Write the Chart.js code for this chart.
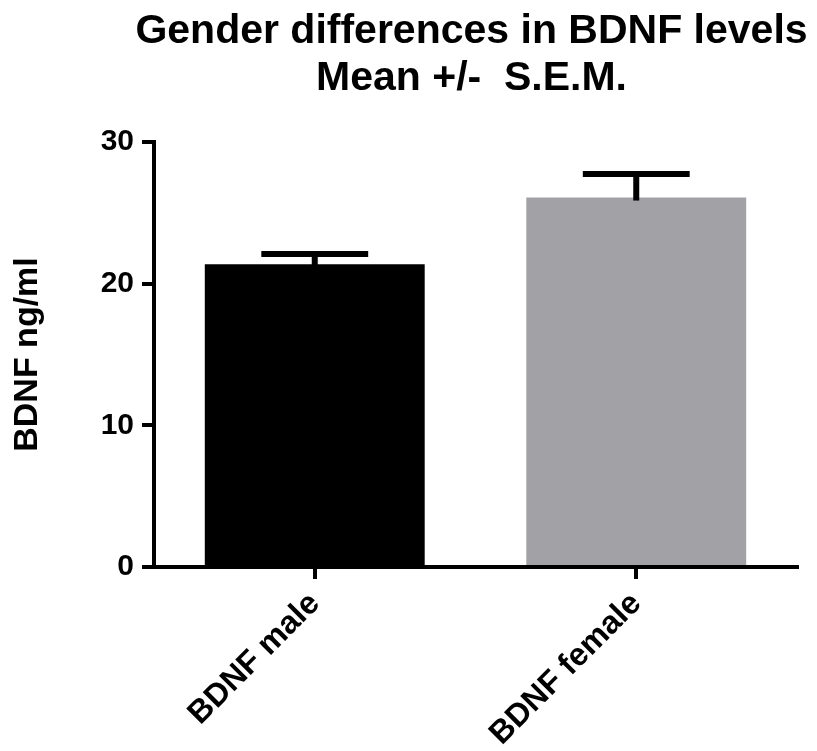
<!DOCTYPE html>
<html>
<head>
<meta charset="utf-8">
<script src="https://cdn.jsdelivr.net/npm/chart.js@4/dist/chart.umd.min.js"></script>
<style>
  html, body { margin: 0; padding: 0; background: #fff; }
  #wrap { width: 817px; height: 751px; }
</style>
</head>
<body>
<div id="wrap"><canvas id="c" width="817" height="751"></canvas></div>
<script>
const categories = ['BDNF male', 'BDNF female'];
const meanValues = [21.37, 26.08];
const semValues = [0.73, 1.66];
const yTicks = [0, 10, 20, 30];
const barColors = ['#000000', '#a2a1a6'];
const titleLines = ['Gender differences in BDNF levels', 'Mean +/-  S.E.M.'];
const yAxisTitle = 'BDNF ng/ml';

const FONT = "'Liberation Sans', Arial, Helvetica, sans-serif";

const errorBarPlugin = {
  id: 'errorBars',
  afterDatasetsDraw(chart) {
    const ctx = chart.ctx;
    const yScale = chart.scales.y;
    const meta = chart.getDatasetMeta(0);
    ctx.save();
    ctx.strokeStyle = '#000';
    ctx.lineWidth = 6;
    ctx.lineCap = 'butt';
    meta.data.forEach((bar, i) => {
      const x = bar.x;
      const yMean = yScale.getPixelForValue(meanValues[i]);
      const yTop = yScale.getPixelForValue(meanValues[i] + semValues[i]);
      const half = bar.width * 0.243;
      ctx.beginPath();
      ctx.moveTo(x, yMean + 3);
      ctx.lineTo(x, yTop);
      ctx.stroke();
      ctx.beginPath();
      ctx.moveTo(x - half, yTop);
      ctx.lineTo(x + half, yTop);
      ctx.stroke();
    });
    ctx.restore();
  }
};

// Title drawn as canvas text, centred slightly left of the plot-area centre like the reference
const titlePlugin = {
  id: 'wideTitle',
  afterDraw(chart) {
    const ctx = chart.ctx;
    const area = chart.chartArea;
    const cx = (area.left + area.right) / 2 - 4;
    ctx.save();
    ctx.fillStyle = '#000';
    ctx.font = "bold 41px " + FONT;
    ctx.textAlign = 'center';
    ctx.textBaseline = 'alphabetic';
    titleLines.forEach((line, i) => {
      ctx.fillText(line, cx, 43 + i * 47);
    });
    ctx.restore();
  }
};

new Chart(document.getElementById('c'), {
  type: 'bar',
  data: {
    labels: categories,
    datasets: [{
      data: meanValues,
      backgroundColor: barColors,
      borderWidth: 0,
      categoryPercentage: 1.0,
      barPercentage: 0.684
    }]
  },
  options: {
    responsive: false,
    animation: false,
    devicePixelRatio: 1,
    layout: { padding: { left: 0, right: 20, top: 142, bottom: 0 } },
    plugins: {
      legend: { display: false },
      tooltip: { enabled: false },
      title: { display: false }
    },
    scales: {
      x: {
        offset: true,
        afterFit(scale) { scale.height = 184; },
        grid: {
          display: true,
          offset: false,
          drawOnChartArea: false,
          drawTicks: true,
          tickLength: 12,
          lineWidth: 4,
          color: '#000'
        },
        border: { display: true, width: 4, color: '#000' },
        ticks: {
          color: '#000',
          minRotation: 45,
          maxRotation: 45,
          padding: 6,
          font: { family: FONT, size: 32, weight: 'bold' }
        }
      },
      y: {
        min: 0,
        max: 30,
        afterFit(scale) { scale.width = 154; },
        afterBuildTicks(scale) { scale.ticks = yTicks.map(v => ({ value: v })); },
        grid: {
          display: true,
          drawOnChartArea: false,
          drawTicks: true,
          tickLength: 12,
          lineWidth: 4,
          color: '#000'
        },
        border: { display: true, width: 4, color: '#000' },
        ticks: {
          color: '#000',
          padding: 8,
          font: { family: FONT, size: 30, weight: 'bold' }
        },
        title: {
          display: true,
          text: yAxisTitle,
          color: '#000',
          font: { family: FONT, size: 34, weight: 'bold', lineHeight: 1.2 },
          padding: { top: 7, bottom: 0 }
        }
      }
    }
  },
  plugins: [errorBarPlugin, titlePlugin]
});
</script>
</body>
</html>
